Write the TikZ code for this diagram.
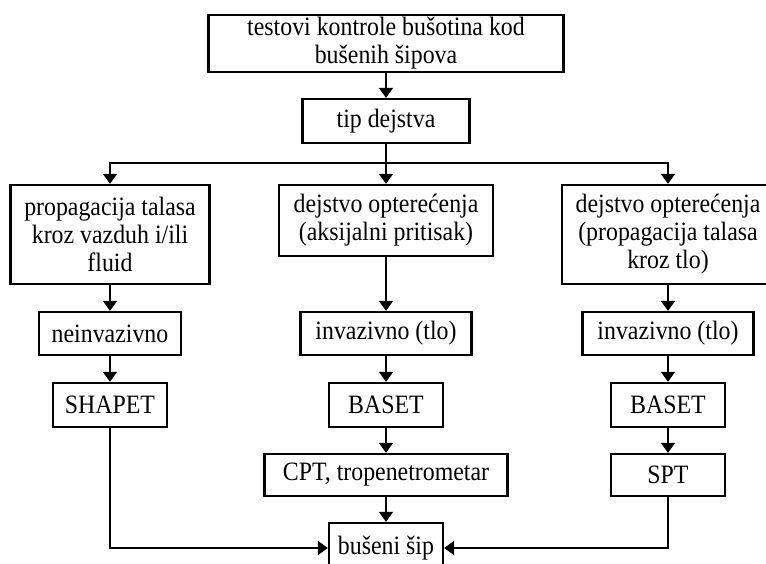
\documentclass[tikz,border=0pt]{standalone}
\usepackage{fontspec}
\setmainfont{Liberation Serif}[FakeStretch=0.9]
\usetikzlibrary{arrows.meta}
\begin{document}
\begin{tikzpicture}[x=1pt,y={(0pt,-1pt)},
  box/.style={draw, line width=2.3pt, inner sep=0pt, align=center,
    font=\fontsize{26.5}{28}\selectfont},
  arr/.style={line width=1.3pt, -{Triangle[length=10pt,width=14pt]}}]
\useasboundingbox (0,0) rectangle (766,563);
\fill[white] (0,0) rectangle (766,563);
\clip (0,0) rectangle (766,563);
% nodes
\node[box, minimum width=355pt, minimum height=57pt] (top) at (386,43.5) {testovi kontrole bušotina kod\\bušenih šipova};
\node[box, minimum width=167pt, minimum height=44pt] (tip) at (386,121) {tip dejstva};
\node[box, minimum width=199pt, minimum height=99pt] (a2) at (110,234.5) {propagacija talasa\\kroz vazduh i/ili\\fluid};
\node[box, minimum width=214pt, minimum height=71pt] (b2) at (386,220.5) {dejstvo opterećenja\\(aksijalni pritisak)};
\node[box, minimum width=212pt, minimum height=99pt] (c2) at (668,234.5) {dejstvo opterećenja\\(propagacija talasa\\kroz tlo)};
\node[box, minimum width=142pt, minimum height=43pt] (a3) at (110,333.5) {neinvazivno};
\node[box, minimum width=171pt, minimum height=43pt] (b3) at (386,333.5) {invazivno (tlo)};
\node[box, minimum width=171pt, minimum height=43pt] (c3) at (668,333.5) {invazivno (tlo)};
\node[box, minimum width=114pt, minimum height=44pt] (a4) at (110,405) {SHAPET};
\node[box, minimum width=114pt, minimum height=44pt] (b4) at (386,405) {BASET};
\node[box, minimum width=114pt, minimum height=44pt] (c4) at (668,405) {BASET};
\node[box, minimum width=243pt, minimum height=42pt] (b5) at (386,475) {CPT, tropenetrometar};
\node[box, minimum width=114pt, minimum height=42pt] (c5) at (668,475) {SPT};
\node[box, minimum width=114pt, minimum height=50pt] (bot) at (386,548) {bušeni šip};
\coordinate (hl) at (386,163);
% connectors
\draw[arr] (top) -- (tip);
\draw[arr] (tip) -- (b2);
\draw[arr] (hl) -| (a2.north);
\draw[arr] (hl) -| (c2.north);
\draw[arr] (a2) -- (a3);
\draw[arr] (a3) -- (a4);
\draw[arr] (b2) -- (b3);
\draw[arr] (b3) -- (b4);
\draw[arr] (b4) -- (b5);
\draw[arr] (b5) -- (bot);
\draw[arr] (c2) -- (c3);
\draw[arr] (c3) -- (c4);
\draw[arr] (c4) -- (c5);
\draw[arr] (a4.south) |- (bot.west);
\draw[arr] (c5.south) |- (bot.east);
\end{tikzpicture}
\end{document}
